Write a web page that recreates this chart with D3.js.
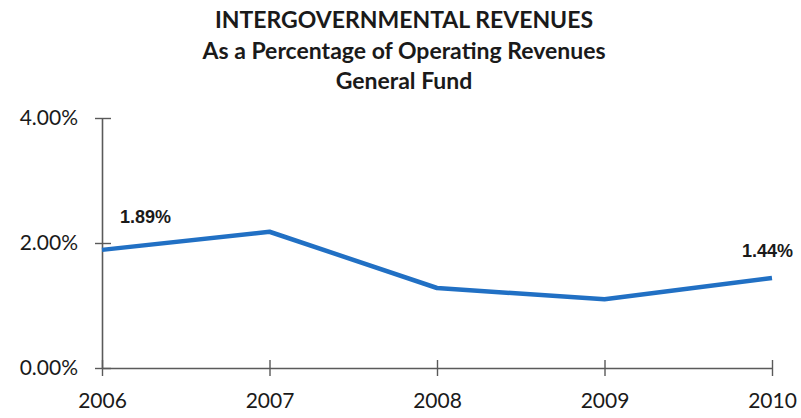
<!DOCTYPE html>
<html>
<head>
<meta charset="utf-8">
<script src="https://cdn.jsdelivr.net/npm/d3@7"></script>
<style>
  html, body { margin: 0; padding: 0; background: #fff; }
  svg { display: block; }
</style>
</head>
<body>
<svg id="chart" width="801" height="418"></svg>
<script>
// Intergovernmental revenues as a share of operating revenues, General Fund
const years = ["2006", "2007", "2008", "2009", "2010"];
const shares = [1.89, 2.18, 1.28, 1.10, 1.44];          // percent
const yTicks = [0, 2, 4];                               // percent
const titleLines = [
  "INTERGOVERNMENTAL REVENUES",
  "As a Percentage of Operating Revenues",
  "General Fund"
];
// points that carry a value label
const labelled = ["2006", "2010"];

const svg = d3.select("#chart");
const margin = { left: 102, right: 29, top: 118, bottom: 50 };
const W = 801, H = 418;

const x = d3.scalePoint().domain(years).range([margin.left, W - margin.right]);
const y = d3.scaleLinear().domain([0, 4]).range([H - margin.bottom, margin.top]);

const axisColor = "#5a5a5a";
const font = "Lato, 'Open Sans', sans-serif";

// title
svg.append("g").selectAll("text")
  .data(titleLines)
  .join("text")
  .attr("x", 404)
  .attr("y", (d, i) => 28 + i * 30.5)
  .attr("text-anchor", "middle")
  .attr("font-family", font)
  .attr("font-weight", 700)
  .attr("font-size", 23)
  .attr("fill", "#1a1a1a")
  .text(d => d);

// y axis
const yAxis = d3.axisLeft(y)
  .tickValues(yTicks)
  .tickFormat(d => d3.format(".2f")(d) + "%")
  .tickSizeInner(7)
  .tickSizeOuter(0);
const gy = svg.append("g")
  .attr("transform", `translate(${margin.left},0)`)
  .call(yAxis);
gy.select(".domain").attr("stroke", axisColor).attr("stroke-width", 1.6);
gy.selectAll(".tick line")
  .attr("x1", -7).attr("x2", 9)
  .attr("stroke", axisColor).attr("stroke-width", 1.4);
gy.selectAll(".tick text")
  .attr("x", -24)
  .attr("font-family", font)
  .attr("font-size", 21)
  .attr("fill", "#1a1a1a");

// x axis
const xAxis = d3.axisBottom(x).tickSizeInner(8).tickSizeOuter(0);
const gx = svg.append("g")
  .attr("transform", `translate(0,${y(0)})`)
  .call(xAxis);
gx.select(".domain").attr("stroke", axisColor).attr("stroke-width", 1.6);
gx.selectAll(".tick line")
  .attr("y1", -8).attr("y2", 8)
  .attr("stroke", axisColor).attr("stroke-width", 1.4);
gx.selectAll(".tick text")
  .attr("y", 25)
  .attr("font-family", font)
  .attr("font-size", 21)
  .attr("fill", "#1a1a1a");

// data line
const pts = years.map((yr, i) => ({ year: yr, value: shares[i] }));
svg.append("path")
  .datum(pts)
  .attr("fill", "none")
  .attr("stroke", "#2170c4")
  .attr("stroke-width", 4.5)
  .attr("stroke-linejoin", "round")
  .attr("d", d3.line().x(d => x(d.year)).y(d => y(d.value)));

// value labels
svg.append("g").selectAll("text")
  .data(pts.filter(d => labelled.includes(d.year)))
  .join("text")
  .attr("x", d => d.year === years[0] ? x(d.year) + 18 : x(d.year) + 21)
  .attr("y", d => y(d.value) - (d.year === years[0] ? 27 : 21))
  .attr("text-anchor", d => d.year === years[0] ? "start" : "end")
  .attr("font-family", "'Liberation Sans', Arial, sans-serif")
  .attr("font-weight", 700)
  .attr("font-size", 18)
  .attr("fill", "#1a1a1a")
  .text(d => d3.format(".2f")(d.value) + "%");
</script>
</body>
</html>
